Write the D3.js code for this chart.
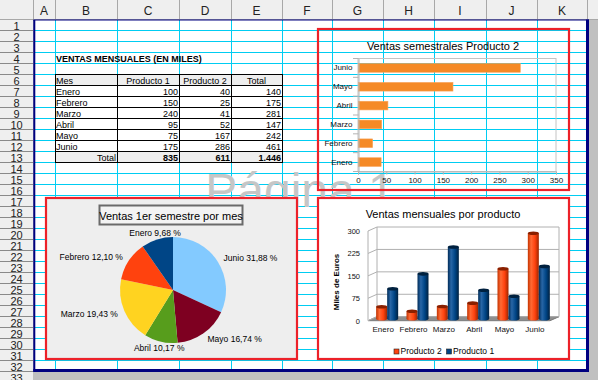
<!DOCTYPE html>
<html>
<head>
<meta charset="utf-8">
<script src="https://cdn.jsdelivr.net/npm/d3@7"></script>
<style>
  html, body { margin: 0; padding: 0; background: #c0c0c0; overflow: hidden; }
  svg { display: block; font-family: "Liberation Sans", Arial, sans-serif; }
</style>
</head>
<body>
<div id="hoja"></div>
<script>
// ---- datos ----
const columnas = ["A", "B", "C", "D", "E", "F", "G", "H", "I", "J", "K"];
const meses = ["Enero", "Febrero", "Marzo", "Abril", "Mayo", "Junio"];
const producto1 = [100, 150, 240, 95, 75, 175];
const producto2 = [40, 25, 41, 52, 167, 286];
const totales = [140, 175, 281, 147, 242, 461];
const encabezados = ["Mes", "Producto 1", "Producto 2", "Total"];
const ticksProducto2 = [0, 50, 100, 150, 200, 250, 300, 350];
const ticksMiles = [0, 75, 150, 225, 300];
const series = ["Producto 2", "Producto 1"];

// ---- layout ----
const W = 598, H = 380;
const bordesCol = [33, 55, 117, 179, 231, 282, 332, 383, 434, 486, 537, 587];
const topFilas = 19, altoFila = 11, anchoCab = 33, nFilas = 33;
const filaY = n => topFilas + (n - 1) * altoFila;   // top of row n
const rojo = "#ec2129", cian = "#00cdf2", navy = "#000080";
const paleta = d3.scaleOrdinal(meses, ["#004586", "#ff420e", "#ffd320", "#579d1c", "#7e0021", "#83caff"]);
const colSerie = d3.scaleOrdinal(series, ["#ff420e", "#004586"]);

const es = d3.formatLocale({decimal: ",", thousands: ".", grouping: [3], currency: ["", " €"]});
const fmtMiles = es.format(",d");
const fmtPct = es.format(".2f");

const svg = d3.select("#hoja").append("svg").attr("width", W).attr("height", H);
svg.append("rect").attr("width", W).attr("height", H).attr("fill", "#c0c0c0");

/////////////////////////////////////////////////////////////////
//               hoja: cabeceras y cuadricula
/////////////////////////////////////////////////////////////////

svg.append("rect").attr("width", W).attr("height", topFilas).attr("fill", "#efefef");
svg.append("rect").attr("width", anchoCab).attr("height", H).attr("fill", "#efefef");

let cab = svg.append("g");
cab.selectAll("line.col").data(bordesCol).enter().append("line")
   .attr("x1", d => d + 0.5).attr("x2", d => d + 0.5).attr("y1", 0).attr("y2", topFilas)
   .attr("stroke", "#a8a8a8");
cab.append("line").attr("x1", 0).attr("x2", W).attr("y1", topFilas + 0.5).attr("y2", topFilas + 0.5).attr("stroke", "#a8a8a8");
cab.selectAll("text.col").data(columnas).enter().append("text")
   .attr("x", (d, i) => (bordesCol[i] + bordesCol[i + 1]) / 2)
   .attr("y", 15).attr("text-anchor", "middle")
   .attr("font-size", 12).attr("fill", "#222").text(d => d);

let filas = d3.range(1, nFilas + 1);
cab.selectAll("line.fila").data(filas).enter().append("line")
   .attr("x1", 0).attr("x2", anchoCab).attr("y1", d => filaY(d + 1) + 0.5).attr("y2", d => filaY(d + 1) + 0.5)
   .attr("stroke", "#8a8a8a");
cab.selectAll("text.fila").data(filas).enter().append("text")
   .attr("x", anchoCab / 2).attr("y", d => filaY(d + 1))
   .attr("text-anchor", "middle").attr("font-size", 11).attr("fill", "#222").text(d => d);

// pagina
svg.append("rect").attr("x", 35).attr("y", 20).attr("width", 552).attr("height", 350).attr("fill", "#fff");

let grid = svg.append("g").attr("stroke", cian);
grid.selectAll("line.h").data(d3.range(1, 32)).enter().append("line")
    .attr("x1", 35).attr("x2", 586).attr("y1", d => filaY(d + 1) + 0.5).attr("y2", d => filaY(d + 1) + 0.5);
grid.selectAll("line.v").data(bordesCol.slice(1, -1)).enter().append("line")
    .attr("x1", d => d + 0.5).attr("x2", d => d + 0.5).attr("y1", 20).attr("y2", 370);

// marca de agua
svg.append("text").attr("x", 300).attr("y", 207).attr("text-anchor", "middle")
   .attr("font-size", 48).attr("fill", "#c6c6c6").text("Página 1");

/////////////////////////////////////////////////////////////////
//               tabla
/////////////////////////////////////////////////////////////////

let tabla = svg.append("g").attr("font-size", 9).attr("fill", "#000");
tabla.append("text").attr("x", 56).attr("y", filaY(5) - 1).attr("font-weight", "bold")
     .text("VENTAS MENSUALES (EN MILES)");

let cols = [bordesCol[1], bordesCol[2], bordesCol[3], bordesCol[4], bordesCol[5]];
let cuerpo = meses.map((m, i) => [m, producto1[i], producto2[i], totales[i]]);
let pie = ["Total", d3.sum(producto1), d3.sum(producto2), d3.sum(totales)];
let filasTabla = [encabezados].concat(cuerpo, [pie]);

tabla.selectAll("rect.fondo").data([6, 13]).enter().append("rect")
     .attr("x", cols[0]).attr("y", d => filaY(d)).attr("width", cols[4] - cols[0]).attr("height", altoFila)
     .attr("fill", "#eeeeee");

filasTabla.forEach((fila, r) => {
    let n = 6 + r;
    let base = filaY(n + 1) - 1;
    fila.forEach((v, c) => {
        let t = tabla.append("text").attr("y", base);
        if (r === 0) {
            if (c === 0) t.attr("x", cols[0] + 1);
            else t.attr("x", (cols[c] + cols[c + 1]) / 2).attr("text-anchor", "middle");
            t.text(v);
        } else if (c === 0) {
            if (r === filasTabla.length - 1) t.attr("x", cols[1] - 1).attr("text-anchor", "end");
            else t.attr("x", cols[0] + 1);
            t.text(v);
        } else {
            t.attr("x", cols[c + 1] - 1).attr("text-anchor", "end").text(fmtMiles(v));
            if (r === filasTabla.length - 1) t.attr("font-weight", "bold");
        }
    });
});

let bordes = tabla.append("g").attr("stroke", "#000").attr("stroke-width", 1);
d3.range(6, 15).forEach(n => {
    bordes.append("line").attr("x1", cols[0]).attr("x2", cols[4] + 1)
          .attr("y1", filaY(n) + 0.5).attr("y2", filaY(n) + 0.5);
});
cols.forEach(x => {
    bordes.append("line").attr("x1", x + 0.5).attr("x2", x + 0.5)
          .attr("y1", filaY(6)).attr("y2", filaY(14) + 1);
});

// borde de pagina
let pag = svg.append("g").attr("stroke", navy);
pag.append("line").attr("x1", 34.3).attr("x2", 34.3).attr("y1", 20).attr("y2", 372).attr("stroke-width", 2);
pag.append("line").attr("x1", 587.5).attr("x2", 587.5).attr("y1", 19.5).attr("y2", 372).attr("stroke-width", 3);
pag.append("line").attr("x1", 33.3).attr("x2", 589).attr("y1", 370.6).attr("y2", 370.6).attr("stroke-width", 3);
pag.append("line").attr("x1", 33.3).attr("x2", 589).attr("y1", 20).attr("y2", 20).attr("stroke-width", 1);

/////////////////////////////////////////////////////////////////
//               grafico 1: barras Producto 2
/////////////////////////////////////////////////////////////////

let g1 = svg.append("g");
g1.append("text").attr("x", 443).attr("y", 50).attr("text-anchor", "middle")
  .attr("font-size", 11).text("Ventas semestrales Producto 2");

let x1 = d3.scaleLinear().domain([0, 350]).range([358, 556]);
let y1 = d3.scaleBand().domain(meses.slice().reverse()).range([58.5, 171.5])
           .paddingInner(0.54).paddingOuter(0.27);

g1.append("rect").attr("x", x1(0)).attr("y", 58.5).attr("width", x1(350) - x1(0)).attr("height", 113)
  .attr("fill", "none").attr("stroke", "#c4c4c4");

g1.selectAll("rect.bar").data(meses).enter().append("rect")
  .attr("x", x1(0) + 0.5).attr("y", d => y1(d))
  .attr("width", (d, i) => x1(producto2[i]) - x1(0)).attr("height", y1.bandwidth())
  .attr("fill", "#f58a26").attr("stroke", "#f7a35a").attr("stroke-width", 0.6);

let ejeX1 = g1.append("g").attr("transform", "translate(0,171.5)")
  .call(d3.axisBottom(x1).tickValues(ticksProducto2).tickSize(3).tickPadding(3));
let ejeY1 = g1.append("g").attr("transform", "translate(358.5,0)")
  .call(d3.axisLeft(y1).tickSize(0).tickPadding(6));
[ejeX1, ejeY1].forEach(a => {
    a.selectAll("path,line").attr("stroke", "#b3b3b3");
    a.selectAll("text").attr("font-size", 8).attr("fill", "#111").attr("font-family", "Liberation Sans, Arial, sans-serif");
});
g1.selectAll("line.sep").data(d3.range(0, 7)).enter().append("line")
  .attr("x1", 353).attr("x2", 358.5)
  .attr("y1", d => 58.5 + d * y1.step()).attr("y2", d => 58.5 + d * y1.step())
  .attr("stroke", "#b3b3b3");

g1.append("rect").attr("x", 318).attr("y", 29).attr("width", 251).attr("height", 161)
  .attr("fill", "none").attr("stroke", rojo).attr("stroke-width", 2.2);

/////////////////////////////////////////////////////////////////
//               grafico 2: circular
/////////////////////////////////////////////////////////////////

let g2 = svg.append("g");
g2.append("rect").attr("x", 46).attr("y", 198).attr("width", 251).attr("height", 161)
  .attr("fill", "#eeeeee").attr("stroke", rojo).attr("stroke-width", 2.2);
g2.append("rect").attr("x", 99.5).attr("y", 205.5).attr("width", 143).attr("height", 19)
  .attr("fill", "#f3f3f3").attr("stroke", "#6a6a6a").attr("stroke-width", 2);
g2.append("text").attr("x", 171).attr("y", 219.5).attr("text-anchor", "middle")
  .attr("font-size", 11).text("Ventas 1er semestre por mes");

let cx = 173, cy = 290, radio = 53;
let datosPie = meses.map((m, i) => ({mes: m, total: totales[i]})).reverse();
let sumaTotal = d3.sum(totales);
let arcos = d3.pie().sort(null).value(d => d.total)(datosPie);
let arco = d3.arc().innerRadius(0).outerRadius(radio);
let arcoEtq = d3.arc().innerRadius(60).outerRadius(60);

let tarta = g2.append("g").attr("transform", `translate(${cx},${cy})`);
tarta.selectAll("path").data(arcos).enter().append("path")
     .attr("d", arco).attr("fill", d => paleta(d.data.mes));
tarta.selectAll("text").data(arcos).enter().append("text")
     .attr("transform", d => `translate(${arcoEtq.centroid(d)})`)
     .attr("dy", "0.35em").attr("font-size", 8.5)
     .attr("text-anchor", d => {
         let px = arcoEtq.centroid(d)[0];
         return px > 20 ? "start" : (px < -20 ? "end" : "middle");
     })
     .text(d => d.data.mes + " " + fmtPct(d.data.total / sumaTotal * 100) + " %");

/////////////////////////////////////////////////////////////////
//               grafico 3: columnas 3D
/////////////////////////////////////////////////////////////////

let g3 = svg.append("g");
g3.append("rect").attr("x", 318).attr("y", 198).attr("width", 251).attr("height", 161)
  .attr("fill", "#fff").attr("stroke", rojo).attr("stroke-width", 2.2);
g3.append("text").attr("x", 443).attr("y", 218).attr("text-anchor", "middle")
  .attr("font-size", 11).text("Ventas mensuales por producto");

let x3 = d3.scaleBand().domain(meses).range([368, 550]);
let y3 = d3.scaleLinear().domain([0, 300]).range([320.7, 231]);
let dx = 9, dy = -4;

let defs = svg.append("defs");
[["g0", "#c43300", "#ff6a35", "#ff420e", "#9a2600"],
 ["g1", "#002c58", "#2866a6", "#004586", "#00203f"]].forEach(([id, a, b, c, e]) => {
    let lg = defs.append("linearGradient").attr("id", id);
    lg.append("stop").attr("offset", "0%").attr("stop-color", a);
    lg.append("stop").attr("offset", "30%").attr("stop-color", b);
    lg.append("stop").attr("offset", "65%").attr("stop-color", c);
    lg.append("stop").attr("offset", "100%").attr("stop-color", e);
});

let x0 = x3.range()[0], xF = x3.range()[1];
g3.append("path")
  .attr("d", `M${x0},${y3(0)}L${xF},${y3(0)}L${xF + dx},${y3(0) + dy}L${x0 + dx},${y3(0) + dy}Z`)
  .attr("fill", "#8e8e8e").attr("stroke", "#7a7a7a");

let paredes = g3.append("g").attr("stroke", "#b0b0b0").attr("fill", "none");
ticksMiles.forEach(t => {
    paredes.append("path")
      .attr("d", `M${x0},${y3(t)}L${x0 + dx},${y3(t) + dy}L${xF + dx},${y3(t) + dy}`);
});
paredes.append("line").attr("x1", x0).attr("x2", x0).attr("y1", y3(0)).attr("y2", y3(300));
paredes.append("line").attr("x1", x0 + dx).attr("x2", x0 + dx).attr("y1", y3(0) + dy).attr("y2", y3(300) + dy);
paredes.append("line").attr("x1", xF + dx).attr("x2", xF + dx).attr("y1", y3(0) + dy).attr("y2", y3(300) + dy);

let barras = meses.flatMap((m, i) => [
    {mes: m, serie: series[0], v: producto2[i], k: 0},
    {mes: m, serie: series[1], v: producto1[i], k: 1}
]);
let anchoBarra = 11;
let bx = d => x3(d.mes) + x3.bandwidth() / 2 + 4 - anchoBarra + d.k * anchoBarra;
let barG = g3.selectAll("g.cil").data(barras).enter().append("g").attr("class", "cil");
barG.append("rect")
    .attr("x", bx).attr("y", d => y3(d.v) - 2)
    .attr("width", anchoBarra).attr("height", d => y3(0) - y3(d.v))
    .attr("fill", d => `url(#g${d.k})`);
barG.append("ellipse")
    .attr("cx", d => bx(d) + anchoBarra / 2).attr("cy", d => y3(0) - 2)
    .attr("rx", anchoBarra / 2).attr("ry", 1.8)
    .attr("fill", d => `url(#g${d.k})`);
barG.append("ellipse")
    .attr("cx", d => bx(d) + anchoBarra / 2).attr("cy", d => y3(d.v) - 2)
    .attr("rx", anchoBarra / 2).attr("ry", 1.8)
    .attr("fill", d => d.k === 0 ? "#8a2000" : "#00213f");

let ejeY3 = g3.append("g").attr("transform", `translate(${x0 - 2},0)`)
  .call(d3.axisLeft(y3).tickValues(ticksMiles).tickSize(0).tickPadding(6));
ejeY3.select(".domain").remove();
ejeY3.selectAll("text").attr("font-size", 7.5).attr("fill", "#111").attr("font-family", "Liberation Sans, Arial, sans-serif");

let ejeX3 = g3.append("g").attr("transform", `translate(0,${y3(0)})`)
  .call(d3.axisBottom(x3).tickSize(0).tickPadding(6));
ejeX3.select(".domain").remove();
ejeX3.selectAll("text").attr("font-size", 8).attr("fill", "#111").attr("font-family", "Liberation Sans, Arial, sans-serif");

g3.append("text").attr("transform", "translate(339,282) rotate(-90)")
  .attr("text-anchor", "middle").attr("font-size", 8).attr("font-weight", "bold")
  .text("Miles de Euros");

let leyenda = g3.selectAll("g.ley").data(series).enter().append("g")
  .attr("transform", (d, i) => `translate(${394 + i * 52.5},349)`);
leyenda.append("rect").attr("width", 5).attr("height", 5)
  .attr("fill", d => colSerie(d)).attr("stroke", "#222").attr("stroke-width", 0.6);
leyenda.append("text").attr("x", 6.5).attr("y", 5).attr("font-size", 8.5).text(d => d);
</script>
</body>
</html>
